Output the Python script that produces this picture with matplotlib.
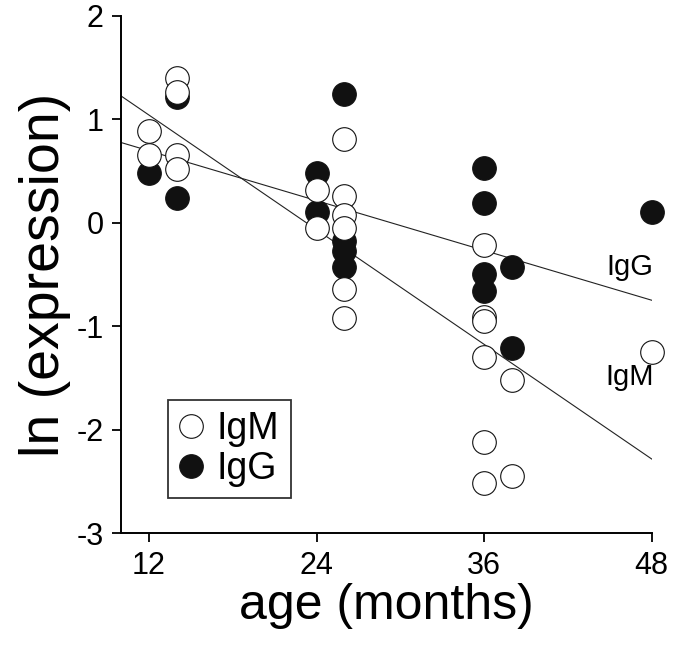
import numpy as np
import matplotlib
matplotlib.use("Agg")
import matplotlib.pyplot as plt
from matplotlib.lines import Line2D

plt.rcParams['font.family'] = ['Liberation Sans', 'DejaVu Sans']
plt.rcParams['axes.unicode_minus'] = False

# IgM (open circles)
igm_age = [12, 12, 14, 14, 14, 14, 24, 24, 26, 26, 26, 26, 26, 26,
           36, 36, 36, 36, 36, 36, 38, 38, 48]
igm_expr = [0.89, 0.65, 1.40, 1.26, 0.65, 0.52, 0.32, -0.05, 0.81, 0.26, 0.07, -0.05, -0.64, -0.92,
            -0.22, -0.91, -0.95, -1.30, -2.12, -2.51, -1.52, -2.45, -1.25]

# IgG (filled circles)
igg_age = [12, 14, 14, 24, 24, 26, 26, 26, 26, 36, 36, 36, 36, 38, 38, 48]
igg_expr = [0.485, 1.21, 0.24, 0.485, 0.10, 1.24, -0.18, -0.27, -0.43,
            0.53, 0.195, -0.50, -0.66, -0.43, -1.21, 0.10]

# regression lines (slope, intercept)
igm_fit = (-0.0923, 2.148)
igg_fit = (-0.0401, 1.176)

x_ticks = [12, 24, 36, 48]
y_ticks = [-3, -2, -1, 0, 1, 2]

fig = plt.figure(figsize=(6.85, 6.45), dpi=100)
ax = fig.add_axes([0.1766, 0.1732, 0.7748, 0.8025])

xs = np.array([10, 48])
ax.plot(xs, igm_fit[0] * xs + igm_fit[1], color='#222222', lw=0.8, zorder=1)
ax.plot(xs, igg_fit[0] * xs + igg_fit[1], color='#222222', lw=0.8, zorder=1)

ms = 17
ax.plot(igg_age, igg_expr, 'o', ms=ms, mfc='#111111', mec='#111111', mew=0.8, zorder=2, clip_on=False)
ax.plot(igm_age, igm_expr, 'o', ms=ms, mfc='white', mec='#111111', mew=0.8, zorder=3, clip_on=False)

ax.text(46.4, -0.43, 'IgG', fontsize=21, ha='center', va='center')
ax.text(46.4, -1.49, 'IgM', fontsize=21, ha='center', va='center')

ax.set_xlim(10, 48)
ax.set_ylim(-3, 2)
ax.set_xticks(x_ticks)
ax.set_yticks(y_ticks)
ax.tick_params(direction='out', length=6.5, width=1.3, labelsize=22, pad=6)
for s in ['top', 'right']:
    ax.spines[s].set_visible(False)
for s in ['left', 'bottom']:
    ax.spines[s].set_linewidth(1.4)

ax.set_xlabel('age (months)', fontsize=36, labelpad=2)
ax.set_ylabel('ln (expression)', fontsize=40, labelpad=4)

handles = [
    Line2D([], [], marker='o', ls='none', ms=ms, mfc='white', mec='#111111', mew=0.8),
    Line2D([], [], marker='o', ls='none', ms=ms, mfc='#111111', mec='#111111', mew=0.8),
]
leg = ax.legend(handles, ['IgM', 'IgG'], loc='lower left', bbox_to_anchor=(0.089, 0.0676),
                borderaxespad=0, fontsize=27, frameon=True, fancybox=False,
                handlelength=0.6, handletextpad=0.4, borderpad=0.3, labelspacing=0.1)
leg.get_frame().set_edgecolor('black')
leg.get_frame().set_linewidth(1.3)

fig.savefig('out.png', dpi=100)
